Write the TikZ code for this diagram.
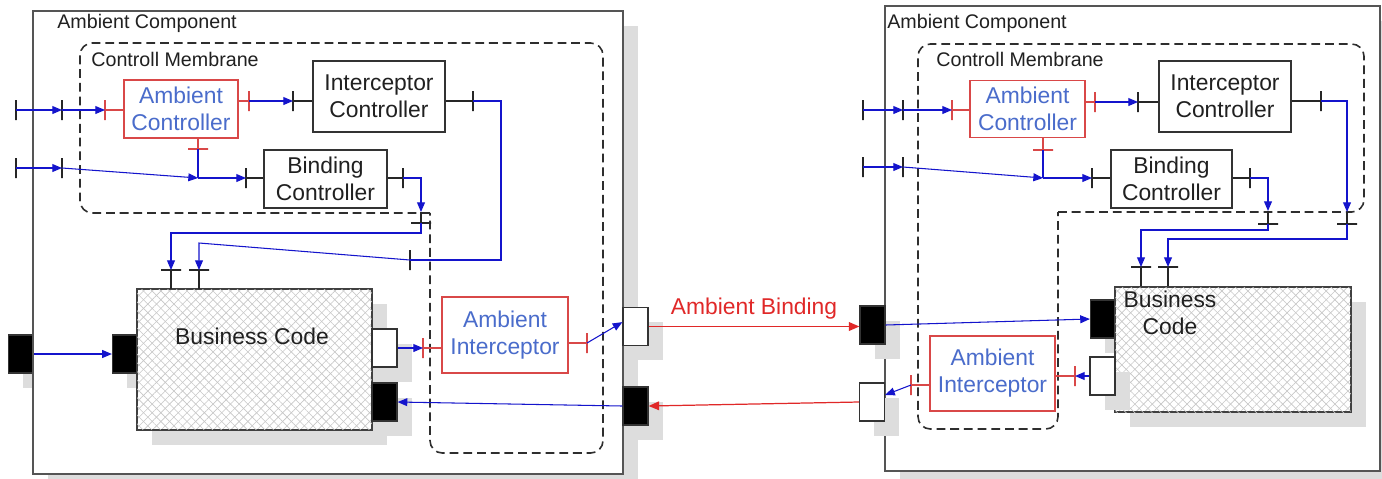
\documentclass[tikz,border=0pt]{standalone}
\usepackage{fontspec}
\setmainfont{Liberation Sans}
\usepackage{tikz}
\usetikzlibrary{arrows.meta,fit,patterns.meta,shadows}
\definecolor{acWire}{HTML}{1414CC}
\definecolor{acRed}{HTML}{D94848}
\definecolor{acLink}{HTML}{E02828}
\definecolor{acText}{HTML}{4A6CCB}
\definecolor{acInk}{HTML}{202020}
\definecolor{acFrame}{HTML}{555555}
\definecolor{acShade}{HTML}{DDDDDD}
\tikzset{
  ac diagram/.style={x=0.02cm, y=-0.02cm, text=acInk,
    line cap=butt, line join=miter},
  ac small/.style={font=\fontsize{11.2}{13}\selectfont},
  ac big/.style={font=\fontsize{13}{15.4}\selectfont},
  ac shadow/.style={general shadow={fill=acShade,
    shadow xshift=8.5pt, shadow yshift=-8.5pt}},
  ac frame/.style={draw=acFrame, fill=white, line width=0.85pt, inner sep=0pt},
  ac title/.style={ac small, anchor=base west, inner sep=0pt},
  ac membrane/.style={draw=black!82, line width=0.9pt,
    dash pattern=on 5pt off 2.8pt, rounded corners=7pt},
  ac box/.style={ac big, draw=black!80, fill=white, line width=0.7pt,
    align=center, inner sep=0pt},
  ac ambient box/.style={ac box, draw=acRed, text=acText},
  ac code/.style={ac shadow, draw=black!75, line width=0.8pt, inner sep=0pt,
    preaction={fill=white}, pattern color=black!22,
    pattern={Lines[angle=45,distance=3.5pt,line width=0.35pt]},
    postaction={pattern color=black!22,
      pattern={Lines[angle=-45,distance=3.5pt,line width=0.35pt]}}},
  ac code text/.style={ac big, inner sep=0pt, align=center},
  ac port/.style={ac shadow, draw=black!80, line width=0.7pt,
    minimum width=0.5cm, minimum height=0.76cm, inner sep=0pt},
  ac port in/.style={ac port, fill=black},
  ac port out/.style={ac port, fill=white},
  ac vtick/.style={draw=black!85, line width=0.8pt, inner sep=0pt,
    outer sep=0pt, minimum width=0pt, minimum height=0.4cm},
  ac htick/.style={ac vtick, minimum width=0.4cm, minimum height=0pt},
  ac red vtick/.style={ac vtick, draw=acRed},
  ac red htick/.style={ac htick, draw=acRed},
  ac line/.style={draw=acWire, line width=0.6pt},
  ac wire/.style={ac line, -{Triangle[length=5.5pt,width=4.5pt]}},
  ac stub/.style={draw=black!85, line width=0.7pt},
  ac red stub/.style={draw=acRed, line width=0.7pt},
  ac link/.style={draw=acLink, line width=0.7pt,
    -{Triangle[length=6pt,width=5pt]}},
  ac link label/.style={ac big, text=acLink, inner sep=0pt}
}
\begin{document}
\begin{tikzpicture}[ac diagram]
\useasboundingbox (0,0) rectangle (1382,478);

% left component
\node[ac port in] (leftIn) at (21,354) {};
\node[ac frame, ac shadow, fit={(33,11) (623,474)}] (leftComp) {};
\node[ac title] (leftTitle) at (57,28) {Ambient Component};
\draw[ac membrane] (430,213) -- (80,213) -- (80,43) -- (603,43) -- (603,453) -- (430,453) -- (430,213);
\node[ac title] (leftMembrane) at (91,66) {Controll Membrane};

\node[ac ambient box, minimum width=2.28cm, minimum height=1.16cm] (ambCtrlL) at (181,109) {Ambient\\Controller};
\node[ac box, minimum width=2.64cm, minimum height=1.42cm] (icL) at (379,96.5) {Interceptor\\Controller};
\node[ac box, minimum width=2.46cm, minimum height=1.16cm] (bcL) at (325.5,179) {Binding\\Controller};
\node[ac port in] (leftCodeIn) at (125,354) {};
\node[ac code, minimum width=4.7cm, minimum height=2.82cm] (codeL) at (254.5,359.5) {};
\node[ac code text, anchor=base] (codeLText) at (252,344) {Business Code};
\node[ac port out] (leftCodeOut) at (384.5,348) {};
\node[ac port in] (leftCodeBack) at (384.5,402) {};
\node[ac ambient box, minimum width=2.52cm, minimum height=1.52cm] (aiL) at (505,335) {Ambient\\Interceptor};
\node[ac port out] (leftOut) at (635.5,326.5) {};
\node[ac port in] (leftBack) at (635.5,406) {};

% left: inputs of the controllers
\node[ac vtick] (ctlExtL) at (16,110) {};
\node[ac vtick] (ctlMemL) at (62,110) {};
\node[ac red vtick] (ctlSrvL) at (105,110) {};
\draw[ac wire] (ctlExtL.center) -- (ctlMemL.center);
\draw[ac wire] (ctlMemL.center) -- (ctlSrvL.center);
\draw[ac red stub] (ctlSrvL.center) -- (ctlSrvL.center -| ambCtrlL.west);

\node[ac vtick] (bindExtL) at (16,168) {};
\node[ac vtick] (bindMemL) at (62,168) {};
\node[ac red htick] (ctlBindL) at (198,149) {};
\coordinate (bindJoinL) at (198,178);
\node[ac vtick] (bindSrvL) at (246,178) {};
\draw[ac wire] (bindExtL.center) -- (bindMemL.center);
\draw[ac wire] (bindMemL.center) -- (bindJoinL);
\draw[ac red stub] (ctlBindL.center) -- (ctlBindL.center |- ambCtrlL.south);
\draw[ac line] (ctlBindL.center) -- (bindJoinL);
\draw[ac wire] (bindJoinL) -- (bindSrvL.center);
\draw[ac stub] (bindSrvL.center) -- (bindSrvL.center -| bcL.west);

\node[ac red vtick] (ctlIcL) at (249,101) {};
\node[ac vtick] (icSrvL) at (293,101) {};
\draw[ac red stub] (ambCtrlL.east |- ctlIcL) -- (ctlIcL.center);
\draw[ac wire] (ctlIcL.center) -- (icSrvL.center);
\draw[ac stub] (icSrvL.center) -- (icSrvL.center -| icL.west);

% left: controllers down to the business code
\node[ac vtick] (icCltL) at (473,101) {};
\node[ac vtick] (icMemL) at (410,260) {};
\node[ac htick] (codeIcL) at (199,270) {};
\draw[ac stub] (icL.east |- icCltL) -- (icCltL.center);
\draw[ac line] (icCltL.center) -- (501,101) |- (icMemL.center);
\draw[ac wire] (icMemL.center) -- (199,243) -- (codeIcL.center);
\draw[ac stub] (codeIcL.center) -- (codeIcL.center |- codeL.north);

\node[ac vtick] (bcCltL) at (403,178) {};
\coordinate (bcMemL) at (421,212);
\node[ac htick] (bcInnerL) at (421,223) {};
\node[ac htick] (codeBcL) at (171,270) {};
\draw[ac stub] (bcL.east |- bcCltL) -- (bcCltL.center);
\draw[ac wire] (bcCltL.center) -| (bcMemL);
\draw[ac stub] (bcMemL) -- (bcInnerL.center);
\draw[ac wire] (bcInnerL.center) -- (421,233) -| (codeBcL.center);
\draw[ac stub] (codeBcL.center) -- (codeBcL.center |- codeL.north);

% left: business code and interceptor
\node[ac red vtick] (aiSrvL) at (423,348) {};
\node[ac red vtick] (aiCltL) at (587,343) {};
\draw[ac wire] (leftIn.east) -- (leftCodeIn.west);
\draw[ac wire] (leftCodeOut.east) -- (aiSrvL.center);
\draw[ac red stub] (aiSrvL.center) -- (aiSrvL.center -| aiL.west);
\draw[ac red stub] (aiL.east |- aiCltL) -- (aiCltL.center);
\draw[ac wire] (aiCltL.center) -- ([yshift=2.5pt]leftOut.west);
\draw[ac wire] (leftBack.west) -- (leftCodeBack.east);

% right component
\node[ac frame, ac shadow, fit={(885,6) (1380,471)}] (rightComp) {};
\node[ac title] (rightTitle) at (887,28) {Ambient Component};
\draw[ac membrane] (1058,212) -- (1364,212) -- (1364,44) -- (918,44) -- (918,429) -- (1058,429) -- (1058,212);
\node[ac title] (rightMembrane) at (936,66) {Controll Membrane};

\node[ac ambient box, minimum width=2.3cm, minimum height=1.15cm] (ambCtrlR) at (1027.5,109) {Ambient\\Controller};
\node[ac box, minimum width=2.64cm, minimum height=1.42cm] (icR) at (1225,96.5) {Interceptor\\Controller};
\node[ac box, minimum width=2.42cm, minimum height=1.16cm] (bcR) at (1171.5,179) {Binding\\Controller};
\node[ac port in] (rightCodeIn) at (1103,319) {};
\node[ac code, minimum width=4.72cm, minimum height=2.5cm] (codeR) at (1233,349.5) {};
\node[ac code text] (codeRText) at (1170,313) {Business\\Code};
\node[ac port out] (rightCodeOut) at (1102.5,376) {};
\node[ac ambient box, minimum width=2.5cm, minimum height=1.5cm] (aiR) at (992.5,373.5) {Ambient\\Interceptor};
\node[ac port in] (rightIn) at (872.5,325) {};
\node[ac port out] (rightBack) at (872,402) {};

% right: inputs of the controllers
\node[ac vtick] (ctlExtR) at (863,110) {};
\node[ac vtick] (ctlMemR) at (903,110) {};
\node[ac red vtick] (ctlSrvR) at (952,110) {};
\draw[ac wire] (ctlExtR.center) -- (ctlMemR.center);
\draw[ac wire] (ctlMemR.center) -- (ctlSrvR.center);
\draw[ac red stub] (ctlSrvR.center) -- (ctlSrvR.center -| ambCtrlR.west);

\node[ac vtick] (bindExtR) at (863,167) {};
\node[ac vtick] (bindMemR) at (903,167) {};
\node[ac red htick] (ctlBindR) at (1043,150) {};
\coordinate (bindJoinR) at (1043,178);
\node[ac vtick] (bindSrvR) at (1092,178) {};
\draw[ac wire] (bindExtR.center) -- (bindMemR.center);
\draw[ac wire] (bindMemR.center) -- (bindJoinR);
\draw[ac red stub] (ctlBindR.center) -- (ctlBindR.center |- ambCtrlR.south);
\draw[ac line] (ctlBindR.center) -- (bindJoinR);
\draw[ac wire] (bindJoinR) -- (bindSrvR.center);
\draw[ac stub] (bindSrvR.center) -- (bindSrvR.center -| bcR.west);

\node[ac red vtick] (ctlIcR) at (1095,102) {};
\node[ac vtick] (icSrvR) at (1138,102) {};
\draw[ac red stub] (ambCtrlR.east |- ctlIcR) -- (ctlIcR.center);
\draw[ac wire] (ctlIcR.center) -- (icSrvR.center);
\draw[ac stub] (icSrvR.center) -- (icSrvR.center -| icR.west);

% right: controllers down to the business code
\node[ac vtick] (icCltR) at (1321,101) {};
\coordinate (icMemR) at (1347,212);
\node[ac htick] (icInnerR) at (1347,224) {};
\node[ac htick] (codeIcR) at (1168,267) {};
\draw[ac stub] (icR.east |- icCltR) -- (icCltR.center);
\draw[ac wire] (icCltR.center) -| (icMemR);
\draw[ac stub] (icMemR) -- (icInnerR.center);
\draw[ac wire] (icInnerR.center) -- (1347,239) -| (codeIcR.center);
\draw[ac stub] (codeIcR.center) -- (codeIcR.center |- codeR.north);

\node[ac vtick] (bcCltR) at (1250,178) {};
\coordinate (bcMemR) at (1268,211);
\node[ac htick] (bcInnerR) at (1268,224) {};
\node[ac htick] (codeBcR) at (1141,267) {};
\draw[ac stub] (bcR.east |- bcCltR) -- (bcCltR.center);
\draw[ac wire] (bcCltR.center) -| (bcMemR);
\draw[ac stub] (bcMemR) -- (bcInnerR.center);
\draw[ac wire] (bcInnerR.center) -- (1268,230) -| (codeBcR.center);
\draw[ac stub] (codeBcR.center) -- (codeBcR.center |- codeR.north);

% right: business code and interceptor
\node[ac red vtick] (aiSrvR) at (1075,376) {};
\node[ac red vtick] (aiCltR) at (911,385) {};
\draw[ac wire] (rightIn.east) -- (rightCodeIn.west);
\draw[ac wire] (rightCodeOut.west) -- (aiSrvR.center);
\draw[ac red stub] (aiSrvR.center) -- (aiSrvR.center -| aiR.east);
\draw[ac red stub] (aiR.west |- aiCltR) -- (aiCltR.center);
\draw[ac wire] (aiCltR.center) -- ([yshift=4pt]rightBack.east);

% the binding between both components
\draw[ac link] (leftOut.east) -- node[ac link label, above=4pt] (bindingLabel) {Ambient Binding} (rightIn.west |- leftOut.east);
\draw[ac link] (rightBack.west) -- (leftBack.east);
\end{tikzpicture}
\end{document}
